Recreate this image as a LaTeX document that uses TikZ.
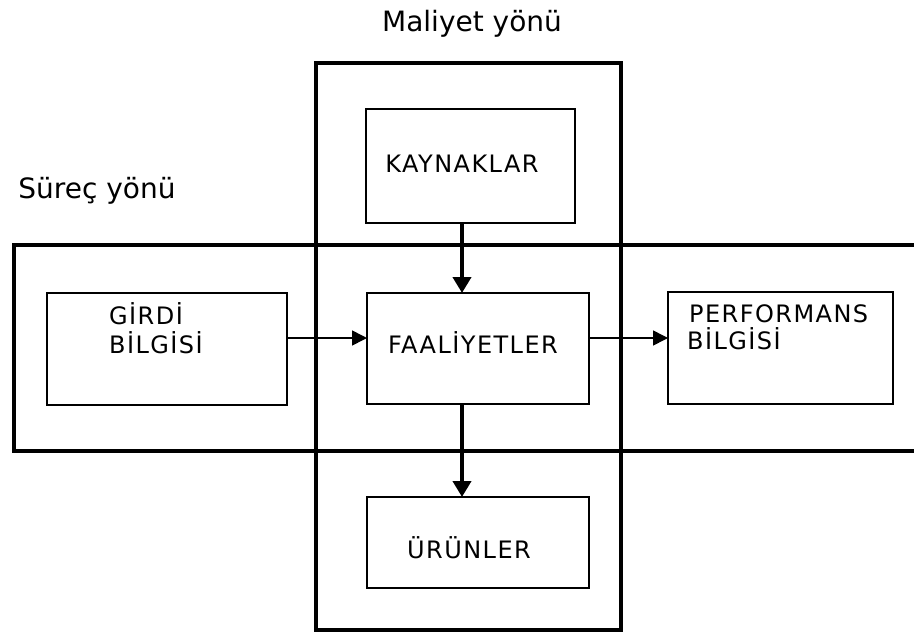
\documentclass[tikz,border=0pt]{standalone}
\usepackage{fontspec}
\setmainfont{DejaVu Sans}
\newfontfamily\boxfont[LetterSpace=6]{DejaVu Sans}
\usetikzlibrary{arrows.meta}

\tikzset{
  zone/.style={draw, line width=4.2pt},
  block/.style={draw, line width=1.8pt, inner sep=0pt, outer sep=0pt, fill=white},
  heading/.style={font=\fontsize{28}{32}\selectfont, inner sep=0pt, anchor=base},
  tag/.style={font=\boxfont\fontsize{24}{28}\selectfont, inner sep=0pt},
  mainflow/.style={line width=4pt, -{Triangle[length=16pt,width=18pt]}},
  sideflow/.style={line width=1.6pt, -{Triangle[length=15pt,width=15pt]}}
}

\begin{document}
\begin{tikzpicture}[x=1pt, y=-1pt]
  \clip (0,0) rectangle (914,632);
  \fill[white] (0,0) rectangle (914,632);

  % the two crossing frames
  \draw[zone] (316,63) rectangle (621,630);
  \draw[zone] (14,245) rectangle (940,451);

  % headings
  \node[heading] (maliyet) at (472,31) {Maliyet yönü};
  \node[heading] (surec) at (97,198) {Süreç yönü};

  % blocks
  \node[block, minimum width=209pt, minimum height=114pt] (kay) at (470.5,166) {};
  \node[block, minimum width=222pt, minimum height=111pt] (faal) at (478,348.5) {};
  \node[block, minimum width=222pt, minimum height=91pt] (urun) at (478,542.5) {};
  \node[block, minimum width=240pt, minimum height=112pt] (girdi) at (167,349) {};
  \node[block, minimum width=225pt, minimum height=112pt] (perf) at (780.5,348) {};

  % block labels
  \node[tag, anchor=base] (kayT) at (462,172) {KAYNAKLAR};
  \node[tag, anchor=base] (faalT) at (473,353) {FAALİYETLER};
  \node[tag, anchor=base] (urunT) at (469,558) {ÜRÜNLER};
  \node[tag, anchor=base west] (girdiT1) at (109,324) {GİRDİ};
  \node[tag, anchor=base west] (girdiT2) at (109,353) {BİLGİSİ};
  \node[tag, anchor=base west] (perfT1) at (689,322) {PERFORMANS};
  \node[tag, anchor=base west] (perfT2) at (687,349) {BİLGİSİ};

  % connectors
  \coordinate (vx) at (462,0);
  \coordinate (hy) at (0,338);
  \draw[mainflow] (kay.south -| vx) -- (faal.north -| vx);
  \draw[mainflow] (faal.south -| vx) -- (urun.north -| vx);
  \draw[sideflow] (girdi.east |- hy) -- (faal.west |- hy);
  \draw[sideflow] (faal.east |- hy) -- (perf.west |- hy);
\end{tikzpicture}
\end{document}
